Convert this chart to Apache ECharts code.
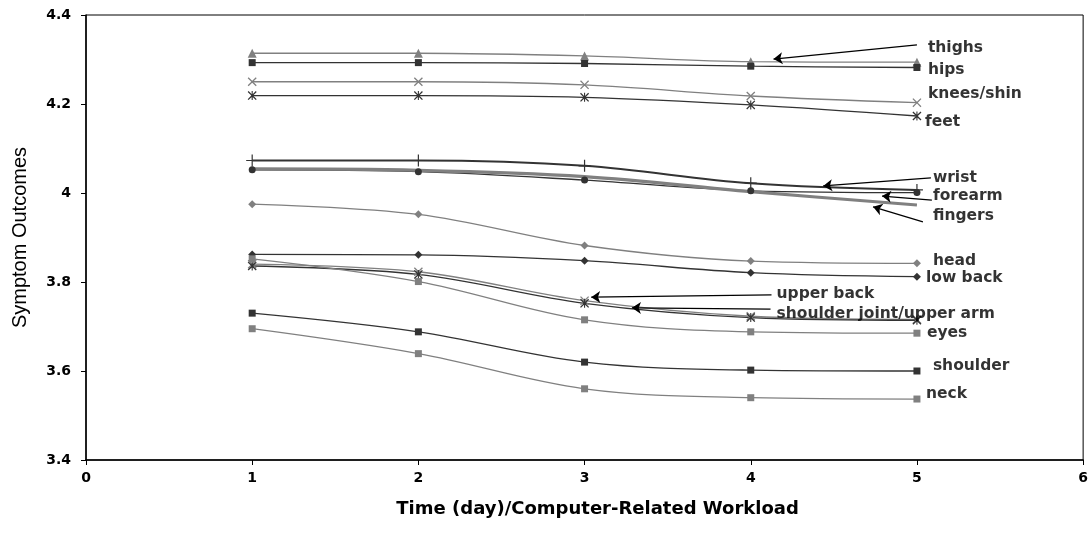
<!DOCTYPE html>
<html>
<head>
<meta charset="utf-8">
<script src="https://cdn.jsdelivr.net/npm/echarts@6/dist/echarts.min.js"></script>
<style>html,body{margin:0;padding:0;background:#fff}#c{width:1091px;height:549px}</style>
</head>
<body>
<div id="c"></div>
<script>
const days = [1, 2, 3, 4, 5];
const xTicks = [0, 1, 2, 3, 4, 5, 6];
const yTicks = [3.4, 3.6, 3.8, 4.0, 4.2, 4.4];

const thighs = [4.314, 4.314, 4.308, 4.295, 4.294];
const hips = [4.293, 4.293, 4.291, 4.285, 4.282];
const kneesShin = [4.250, 4.250, 4.243, 4.218, 4.203];
const feet = [4.219, 4.219, 4.215, 4.198, 4.173];
const wrist = [4.073, 4.073, 4.061, 4.022, 4.007];
const forearm = [4.052, 4.048, 4.029, 4.005, 4.001];
const fingers = [4.054, 4.051, 4.037, 4.003, 3.973];
const head = [3.975, 3.952, 3.882, 3.847, 3.842];
const lowBack = [3.862, 3.861, 3.848, 3.821, 3.812];
const upperBack = [3.840, 3.823, 3.758, 3.723, 3.716];
const shoulderJoint = [3.836, 3.817, 3.752, 3.720, 3.714];
const eyes = [3.852, 3.801, 3.715, 3.688, 3.685];
const shoulder = [3.730, 3.688, 3.620, 3.602, 3.600];
const neck = [3.695, 3.639, 3.560, 3.540, 3.537];

// annotation text anchors [x, y, text]
const annotations = [
  [5.066, 4.326, 'thighs'],
  [5.066, 4.276, 'hips'],
  [5.066, 4.222, 'knees/shin'],
  [5.048, 4.160, 'feet'],
  [5.096, 4.034, 'wrist'],
  [5.096, 3.993, 'forearm'],
  [5.096, 3.948, 'fingers'],
  [5.096, 3.847, 'head'],
  [5.054, 3.809, 'low back'],
  [4.155, 3.773, 'upper back'],
  [4.155, 3.728, 'shoulder joint/upper arm'],
  [5.060, 3.685, 'eyes'],
  [5.096, 3.611, 'shoulder'],
  [5.054, 3.548, 'neck']
];
// arrows [[fromX, fromY], [toX, toY]]
const arrows = [
  [[5.000, 4.333], [4.137, 4.301]],
  [[5.084, 4.034], [4.436, 4.016]],
  [[5.090, 3.984], [4.790, 3.993]],
  [[5.036, 3.935], [4.736, 3.969]],
  [[4.125, 3.771], [3.040, 3.766]],
  [[4.119, 3.739], [3.285, 3.742]]
];

const DARK = '#333333';
const GRAY = '#808080';
const BOLD_FONT = 'DejaVu Sans, Liberation Sans, Arial, sans-serif';
const X_SYM = 'path://M1,0 L5,4 L9,0 L10,1 L6,5 L10,9 L9,10 L5,6 L1,10 L0,9 L4,5 L0,1 Z';
const AST_SYM = 'path://M1,0 L5,4 L9,0 L10,1 L6,5 L10,9 L9,10 L5,6 L1,10 L0,9 L4,5 L0,1 Z M4.4,0 L5.6,0 L5.6,10 L4.4,10 Z';
const PLUS_SYM = 'path://M4.5,0 L5.5,0 L5.5,4.5 L10,4.5 L10,5.5 L5.5,5.5 L5.5,10 L4.5,10 L4.5,5.5 L0,5.5 L0,4.5 L4.5,4.5 Z';

function mk(name, vals, color, symbol, size, width) {
  return {
    name: name, type: 'line', smooth: 0.35,
    data: days.map((d, i) => [d, vals[i]]),
    symbol: symbol, symbolSize: size, showSymbol: symbol !== 'none',
    lineStyle: { color: color, width: width },
    itemStyle: { color: color },
    emphasis: { disabled: true }, silent: true, z: 3
  };
}

const series = [
  mk('thighs', thighs, GRAY, 'triangle', 9, 1.3),
  mk('hips', hips, DARK, 'rect', 7, 1.3),
  mk('knees/shin', kneesShin, GRAY, X_SYM, 9, 1.3),
  mk('feet', feet, DARK, AST_SYM, 9, 1.3),
  mk('wrist', wrist, DARK, PLUS_SYM, 12, 2),
  mk('forearm', forearm, DARK, 'circle', 7, 1.3),
  mk('fingers', fingers, GRAY, 'none', 0, 3.2),
  mk('head', head, GRAY, 'diamond', 8, 1.3),
  mk('low back', lowBack, DARK, 'diamond', 8, 1.3),
  mk('upper back', upperBack, GRAY, X_SYM, 9, 1.3),
  mk('shoulder joint/upper arm', shoulderJoint, DARK, AST_SYM, 9, 1.3),
  mk('eyes', eyes, GRAY, 'rect', 7, 1.3),
  mk('shoulder', shoulder, DARK, 'rect', 7, 1.3),
  mk('neck', neck, GRAY, 'rect', 7, 1.3),
  {
    type: 'lines', coordinateSystem: 'cartesian2d', silent: true, z: 5,
    symbol: ['none', 'arrow'], symbolSize: 9,
    lineStyle: { color: '#000', width: 1.3, opacity: 1 },
    data: arrows.map(a => ({ coords: a }))
  },
  {
    type: 'scatter', silent: true, symbolSize: 0, z: 6,
    data: annotations.map(a => ({ value: [a[0], a[1]], name: a[2] })),
    label: {
      show: true, position: 'right', distance: 0,
      formatter: p => p.name,
      fontFamily: BOLD_FONT,
      fontWeight: 'bold', fontSize: 15.5, color: '#000'
    }
  }
];

const chart = echarts.init(document.getElementById('c'), null, { renderer: 'canvas' });
chart.setOption({
  animation: false,
  backgroundColor: '#fff',
  grid: { left: 86, right: 5, top: 15, bottom: 89, show: true, borderColor: '#000', borderWidth: 1 },
  xAxis: {
    type: 'value', min: xTicks[0], max: xTicks[xTicks.length - 1], interval: 1,
    name: 'Time (day)/Computer-Related Workload', nameLocation: 'middle', nameGap: 40,
    nameTextStyle: { fontFamily: BOLD_FONT, fontWeight: 'bold', fontSize: 18, color: '#000', padding: [0, 0, 0, 26] },
    axisLine: { lineStyle: { color: '#000', width: 1.5 } },
    axisTick: { show: true, length: 5, lineStyle: { color: '#000' } },
    axisLabel: { fontFamily: BOLD_FONT, fontWeight: 'bold', fontSize: 14, color: '#000', margin: 11 },
    splitLine: { show: false }
  },
  yAxis: {
    type: 'value', min: yTicks[0], max: yTicks[yTicks.length - 1], interval: 0.2,
    name: 'Symptom Outcomes', nameLocation: 'middle', nameGap: 56, nameRotate: 90,
    nameTextStyle: { fontFamily: 'Liberation Sans, Arial, sans-serif', fontSize: 20, color: '#000', letterSpacing: -0.4 },
    axisLine: { show: true, lineStyle: { color: '#000', width: 1.5 } },
    axisTick: { show: true, length: 5, lineStyle: { color: '#000' } },
    axisLabel: {
      fontFamily: BOLD_FONT, fontWeight: 'bold', fontSize: 14, color: '#000', margin: 15,
      formatter: v => String(Math.round(v * 10) / 10)
    },
    splitLine: { show: false }
  },
  series: series
});
</script>
</body>
</html>
